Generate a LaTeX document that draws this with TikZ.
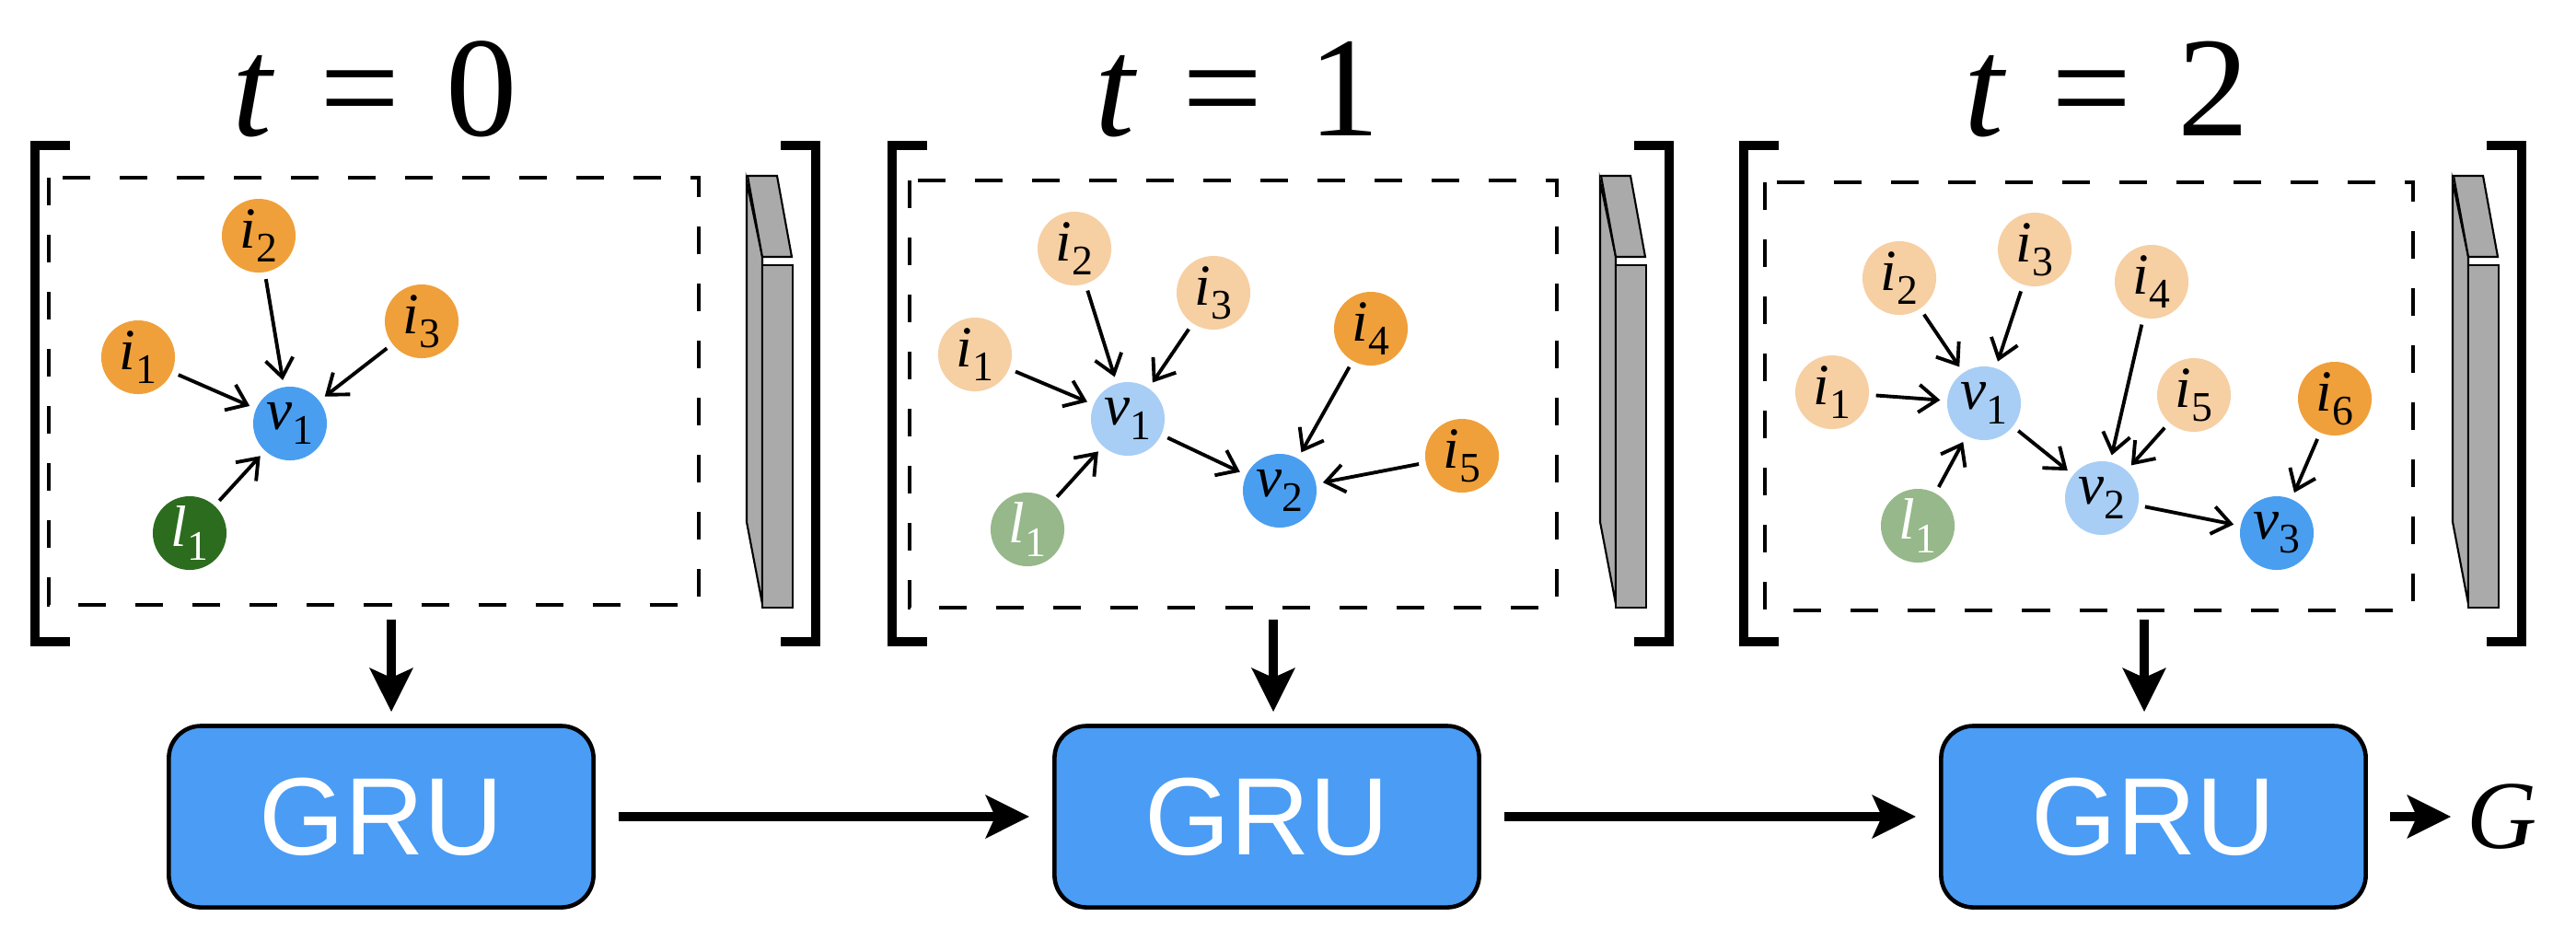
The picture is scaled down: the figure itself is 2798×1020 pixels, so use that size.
\documentclass[tikz,border=0pt]{standalone}
\usepackage{fontspec}
\setmainfont{Liberation Serif}
\newfontfamily\grufont{Liberation Sans}
\usetikzlibrary{arrows.meta}
\definecolor{iorange}{RGB}{240,160,58}
\definecolor{ifade}{RGB}{246,207,163}
\definecolor{vblue}{RGB}{74,158,240}
\definecolor{vfade}{RGB}{168,206,245}
\definecolor{lgreen}{RGB}{44,108,30}
\definecolor{lfade}{RGB}{150,184,138}
\definecolor{grublue}{RGB}{74,156,245}
\definecolor{slabgray}{RGB}{170,170,170}
\newcommand{\lbl}[2]{\textit{#1}\raisebox{-0.24em}{\fontsize{13}{13}\selectfont #2}}
\begin{document}
\begin{tikzpicture}[x=0.01cm,y=-0.01cm,
	inode/.style={circle,fill=iorange,minimum size=0.8cm,inner sep=0pt,font=\fontsize{18}{18}\selectfont},
	ifaded/.style={inode,fill=ifade},
	vnode/.style={inode,fill=vblue},
	vfaded/.style={inode,fill=vfade},
	lnode/.style={inode,fill=lgreen,text=white},
	lfaded/.style={inode,fill=lfade,text=white},
	link/.style={-{Straight Barb[length=0.2cm,width=0.3cm]},line width=1.1pt,shorten <=2pt,shorten >=2pt},
	flow/.style={-{Stealth[length=0.47cm,width=0.46cm,inset=0.1cm]},line width=2.85pt},
	bracket/.style={line width=2.85pt},
	dashbox/.style={line width=1.1pt,dash pattern=on 0.3cm off 0.32cm},
	slab/.style={fill=slabgray,draw,line width=0.6pt},
	gru/.style={draw,rounded corners=0.35cm,fill=grublue,line width=1.3pt,minimum width=4.61cm,minimum height=1.97cm,text=white,font=\grufont\fontsize{34}{34}\selectfont},
	tlabel/.style={inner sep=0pt,font=\fontsize{44}{44}\selectfont}]
\useasboundingbox (0,0) rectangle (2798,1020);
% t = 0
\node[tlabel] (ta) at (407,97) {\textit{t}\hspace{0.32em}=\hspace{0.32em}0};
\draw [bracket] (76,158) -- (38,158) -- (38,697) -- (76,697);
\draw [bracket] (848,158) -- (886,158) -- (886,697) -- (848,697);
\draw [dashbox] (53,193) rectangle (759,657);
\draw [slab] (811,197) -- (828,279) -- (828,656) -- (811,567) -- cycle;
\draw [slab] (812,191) -- (844,191) -- (860,279) -- (828,279) -- cycle;
\draw [slab] (828,288) rectangle (861,660);
\node[inode] (i1a) at (150,388) {\lbl{i}{1}};
\node[inode] (i2a) at (281,256) {\lbl{i}{2}};
\node[inode] (i3a) at (458,349) {\lbl{i}{3}};
\node[vnode] (v1a) at (315,460) {\lbl{v}{1}};
\node[lnode] (l1a) at (206,579) {\lbl{l}{1}};
\draw [link] (i1a) -- (v1a);
\draw [link] (i2a) -- (v1a);
\draw [link] (i3a) -- (v1a);
\draw [link] (l1a) -- (v1a);
% t = 1
\node[tlabel] (tb) at (1344,97) {\textit{t}\hspace{0.32em}=\hspace{0.32em}1};
\draw [bracket] (1007,158) -- (969,158) -- (969,697) -- (1007,697);
\draw [bracket] (1775,158) -- (1813,158) -- (1813,697) -- (1775,697);
\draw [dashbox] (988,196) rectangle (1691,660);
\draw [slab] (1738,197) -- (1755,279) -- (1755,656) -- (1738,567) -- cycle;
\draw [slab] (1739,191) -- (1771,191) -- (1787,279) -- (1755,279) -- cycle;
\draw [slab] (1755,288) rectangle (1788,660);
\node[ifaded] (i1b) at (1059,385) {\lbl{i}{1}};
\node[ifaded] (i2b) at (1167,270) {\lbl{i}{2}};
\node[ifaded] (i3b) at (1318,318) {\lbl{i}{3}};
\node[inode] (i4b) at (1489,357) {\lbl{i}{4}};
\node[inode] (i5b) at (1588,495) {\lbl{i}{5}};
\node[vfaded] (v1b) at (1225,455) {\lbl{v}{1}};
\node[vnode] (v2b) at (1390,533) {\lbl{v}{2}};
\node[lfaded] (l1b) at (1116,575) {\lbl{l}{1}};
\draw [link] (i1b) -- (v1b);
\draw [link] (i2b) -- (v1b);
\draw [link] (i3b) -- (v1b);
\draw [link] (l1b) -- (v1b);
\draw [link] (v1b) -- (v2b);
\draw [link] (i4b) -- (v2b);
\draw [link] (i5b) -- (v2b);
% t = 2
\node[tlabel] (tc) at (2288,97) {\textit{t}\hspace{0.32em}=\hspace{0.32em}2};
\draw [bracket] (1932,158) -- (1894,158) -- (1894,697) -- (1932,697);
\draw [bracket] (2701,158) -- (2739,158) -- (2739,697) -- (2701,697);
\draw [dashbox] (1917,198) rectangle (2621,663);
\draw [slab] (2664,197) -- (2681,279) -- (2681,656) -- (2664,567) -- cycle;
\draw [slab] (2665,191) -- (2697,191) -- (2713,279) -- (2681,279) -- cycle;
\draw [slab] (2681,288) rectangle (2714,660);
\node[ifaded] (i1c) at (1990,426) {\lbl{i}{1}};
\node[ifaded] (i2c) at (2063,302) {\lbl{i}{2}};
\node[ifaded] (i3c) at (2210,271) {\lbl{i}{3}};
\node[ifaded] (i4c) at (2337,306) {\lbl{i}{4}};
\node[ifaded] (i5c) at (2383,429) {\lbl{i}{5}};
\node[inode] (i6c) at (2536,433) {\lbl{i}{6}};
\node[vfaded] (v1c) at (2155,438) {\lbl{v}{1}};
\node[vfaded] (v2c) at (2283,541) {\lbl{v}{2}};
\node[vnode] (v3c) at (2473,579) {\lbl{v}{3}};
\node[lfaded] (l1c) at (2083,571) {\lbl{l}{1}};
\draw [link] (i1c) -- (v1c);
\draw [link] (i2c) -- (v1c);
\draw [link] (i3c) -- (v1c);
\draw [link] (l1c) -- (v1c);
\draw [link] (v1c) -- (v2c);
\draw [link] (i4c) -- (v2c);
\draw [link] (i5c) -- (v2c);
\draw [link] (v2c) -- (v3c);
\draw [link] (i6c) -- (v3c);
% GRU chain
\node[gru] (grua) at (414,887) {GRU};
\node[gru] (grub) at (1376,887) {GRU};
\node[gru] (gruc) at (2339,887) {GRU};
\node[inner sep=0pt,font=\fontsize{30}{30}\selectfont] (g) at (2718,887) {\textit{G}};
\coordinate (outa) at (425,673);
\coordinate (outb) at (1383,673);
\coordinate (outc) at (2329,673);
\draw [flow,shorten >=0.13cm] (outa) -- (outa |- grua.north);
\draw [flow,shorten >=0.13cm] (outb) -- (outb |- grub.north);
\draw [flow,shorten >=0.13cm] (outc) -- (outc |- gruc.north);
\draw [flow,shorten <=0.25cm,shorten >=0.25cm] (grua) -- (grub);
\draw [flow,shorten <=0.25cm,shorten >=0.25cm] (grub) -- (gruc);
\draw [flow,shorten <=0.24cm,shorten >=0.17cm] (gruc) -- (g);
\end{tikzpicture}
\end{document}
